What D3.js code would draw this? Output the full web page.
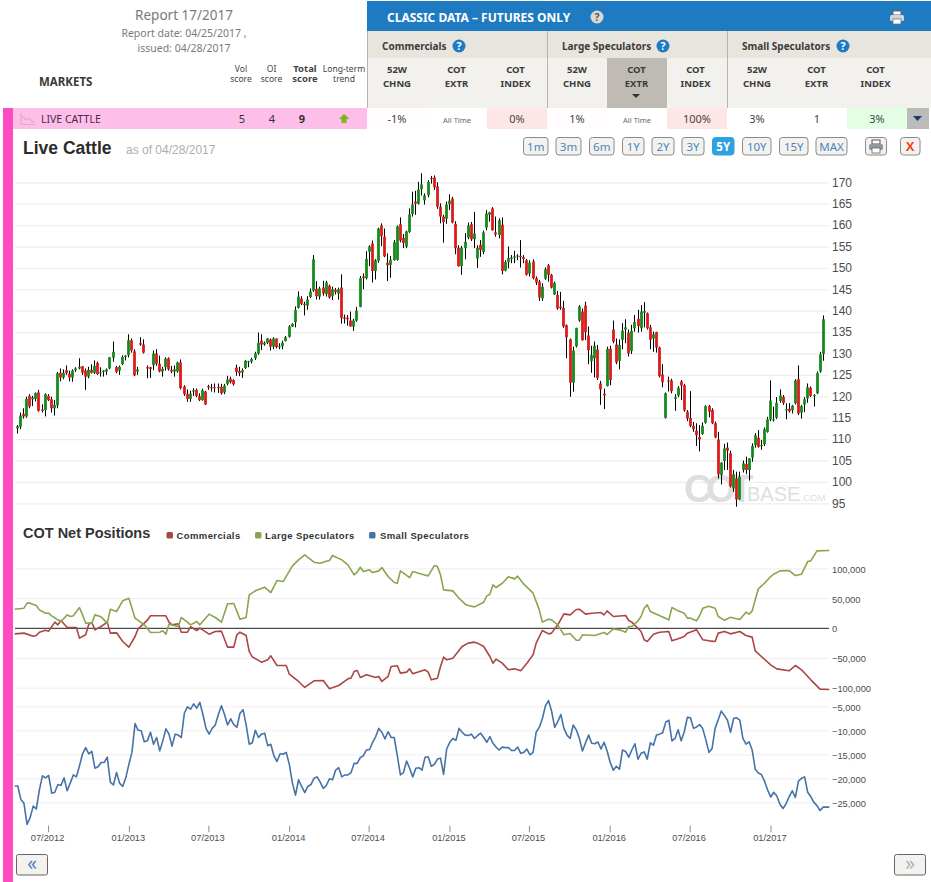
<!DOCTYPE html>
<html><head><meta charset="utf-8">
<script src="https://cdnjs.cloudflare.com/ajax/libs/d3/7.8.5/d3.min.js"></script>
<style>html,body{margin:0;padding:0;background:#fff;overflow:hidden}svg{display:block}text{font-family:"Noto Sans",sans-serif}.ar text,text.ar{font-family:"Liberation Sans",Arial,sans-serif}</style>
</head><body><svg id="c" width="931" height="882"></svg>
<script>
const rangeLabels = ["1m","3m","6m","1Y","2Y","3Y","5Y","10Y","15Y","MAX"];
const groupNames = ["Commercials","Large Speculators","Small Speculators"];
const columnHeads = [["52W","CHNG"],["COT","EXTR"],["COT","INDEX"]];
const rowValues = ["-1%","All Time","0%","1%","All Time","100%","3%","1","3%"];
const xTickLabels = ["07/2012","01/2013","07/2013","01/2014","07/2014","01/2015","07/2015","01/2016","07/2016","01/2017"];
const priceTicks = d3.range(95,171,5);
const netTicks = [100000,50000,0,-50000,-100000];
const smallTicks = [-5000,-10000,-15000,-20000,-25000];

const candleDir = "GGRGRGGRRG"+"RRGGRGRRGG"+"GRRGRGRGGG"+"GGRGGGGRRG"+"RRRRGRRGGR"+"RGGRRRGGRR"+"GRRRRRRGGR"+"RRRGGGGGGR"+"GGRGRGGGGG"+"GGRRGGGRGR"+"GRGRGRRRRG"+"GGRGGRGGRR"+"RGGGRRGGGR"+"GGGGRRRRRG"+"GRRRGGGRGG"+"RGGGRRGRGG"+"GGGRRRGRRR"+"GGRRGRRRRR"+"GGGRRRGGRR"+"RGRRRGGGRG"+"GRGGRRGRRR"+"GRRGGRRRRR"+"RRGGRRRRGG"+"RRGRGGRGGG"+"RGGGGGGGRG"+"RGGRGGGRGG"+"GG";
const priceHigh = [113.3,116.2,117.2,119.9,120.5,120.1,120.9,121.5,118.1,120.7,
120.5,119.9,119.1,125.7,126.5,126.3,127.2,126.0,126.3,126.8,
128.9,127.1,126.5,126.9,127.5,128.4,128.1,126.8,126.1,126.5,
129.2,132.8,127.1,127.2,129.6,129.6,134.5,133.5,131.0,126.9,
133.8,133.3,127.2,126.9,130.7,131.0,129.5,126.9,129.1,129.1,
127.1,127.2,128.1,128.6,122.6,121.6,121.3,121.9,121.8,120.7,
121.8,121.3,122.7,122.9,123.0,123.0,122.9,122.9,124.8,124.6,
124.0,127.4,126.9,126.5,128.5,128.3,129.0,130.4,134.9,134.5,
132.8,133.6,133.5,133.8,133.5,132.4,133.0,134.1,136.6,137.1,
141.0,144.5,143.4,142.1,143.4,145.2,153.0,146.9,145.6,147.0,
147.0,146.1,145.6,145.3,145.4,148.5,139.1,139.0,139.8,138.1,
140.9,148.1,148.7,153.9,155.3,156.4,152.1,159.4,160.4,159.2,
153.4,152.8,156.5,159.9,161.8,157.9,158.7,163.9,167.8,168.0,
170.1,172.1,167.4,170.5,171.5,171.6,170.0,165.1,162.4,165.5,
167.2,166.6,160.9,155.3,155.1,158.1,160.6,160.7,163.1,155.3,
156.5,158.7,163.5,163.1,164.2,162.0,161.6,161.8,151.8,155.0,
153.0,154.0,153.2,156.5,153.0,152.1,151.8,152.0,148.0,147.2,
146.4,150.1,150.9,148.6,146.8,144.6,144.4,142.3,136.8,133.5,
131.6,136.0,141.3,140.5,142.1,136.3,131.8,132.8,132.0,123.6,
121.8,131.6,131.8,137.7,133.5,133.3,137.1,138.0,135.6,136.7,
139.0,140.2,141.3,142.0,139.6,136.7,135.1,135.1,131.6,127.5,
120.9,124.6,124.1,120.5,122.4,123.8,122.9,116.8,121.2,114.0,
113.7,113.3,113.9,117.9,118.0,117.2,114.1,111.7,104.6,108.9,
109.2,107.3,102.8,102.4,102.4,105.0,105.9,105.5,109.0,111.4,
112.1,109.8,112.7,115.2,123.7,117.6,119.8,121.6,120.3,118.4,
118.4,118.0,124.0,127.2,118.0,119.8,123.0,122.3,120.5,125.8,
130.4,138.9];
const bodyTop = [113.0,115.5,115.9,119.4,120.1,119.7,120.8,120.9,116.9,120.5,
120.1,119.3,118.0,125.4,125.5,125.5,126.1,125.3,126.0,126.5,
126.9,127.0,126.0,126.2,126.2,127.1,127.8,125.6,126.0,126.3,
129.1,130.4,126.8,126.9,129.2,129.5,133.1,133.1,130.5,126.3,
132.4,132.1,126.8,126.8,130.0,130.0,127.6,126.4,128.8,128.9,
126.2,126.3,127.9,127.9,122.3,120.6,120.6,121.4,121.5,120.0,
121.4,121.1,122.4,122.1,122.1,122.2,122.2,122.5,123.9,124.1,
123.8,126.7,125.9,126.1,128.3,128.2,128.7,130.0,132.5,133.0,
132.5,133.5,133.3,133.5,133.5,131.7,132.5,133.8,136.3,136.9,
140.2,143.3,142.8,141.6,142.6,144.5,152.0,145.1,145.2,145.4,
146.6,145.8,145.0,144.9,145.0,145.4,138.4,138.4,137.7,137.7,
140.0,147.6,148.0,152.1,155.0,155.7,151.8,159.2,159.9,157.3,
151.2,151.9,156.0,159.7,160.2,157.0,158.5,162.5,164.8,165.5,
168.3,169.5,166.9,170.1,171.0,171.1,169.0,164.3,162.0,164.8,
165.7,166.2,160.3,154.7,154.7,156.1,159.9,160.2,158.0,154.7,
155.4,158.3,162.7,163.0,163.9,158.3,161.1,160.1,151.4,152.3,
152.4,152.7,152.9,152.8,152.5,151.8,151.2,151.5,147.6,146.8,
145.6,149.7,150.6,148.4,146.5,143.7,140.9,140.7,136.6,133.3,
130.7,136.0,141.0,139.8,141.2,134.2,129.6,131.8,130.9,123.0,
120.6,131.1,131.1,135.6,132.1,132.0,135.3,136.1,134.9,135.3,
137.4,138.1,139.8,139.9,139.4,136.1,134.5,135.0,131.4,125.1,
120.7,123.7,123.7,119.8,122.0,123.5,122.6,116.4,114.9,113.1,
112.0,110.5,113.1,117.7,117.7,116.8,113.7,109.9,104.5,107.8,
108.0,106.7,101.8,100.8,101.2,104.3,104.2,105.5,108.4,110.9,
110.3,108.6,112.3,114.6,119.0,114.6,118.5,120.2,119.9,117.0,
117.1,117.8,123.7,124.0,117.7,119.3,122.1,122.0,120.3,125.4,
129.8,138.0];
const bodyBottom = [112.5,112.9,115.3,115.3,117.6,119.3,119.4,116.6,116.6,116.8,
119.1,117.2,117.2,117.9,124.4,124.4,125.4,124.4,124.4,126.1,
126.5,125.5,124.6,124.6,125.5,125.5,125.2,125.4,125.7,125.8,
126.5,129.0,125.7,126.0,127.5,129.2,129.6,130.7,124.9,125.8,
132.1,130.2,126.5,126.4,127.3,127.6,125.8,125.8,126.8,126.3,
125.8,125.8,125.8,121.9,120.5,119.4,119.4,121.1,120.1,119.1,
119.1,118.1,122.1,121.9,121.9,121.9,120.7,120.9,122.9,123.3,
122.8,125.7,125.4,125.6,126.6,128.1,128.1,128.9,130.0,132.1,
132.1,132.5,131.6,131.6,131.5,131.5,131.7,132.9,133.9,136.3,
137.3,140.7,141.6,141.3,141.2,143.2,144.7,143.4,143.3,144.0,
143.9,143.1,143.4,144.4,144.0,138.3,138.1,138.0,136.3,136.3,
137.7,140.9,147.6,147.6,153.8,149.3,149.3,151.7,157.4,152.7,
150.6,150.7,151.8,151.9,156.4,155.8,155.0,158.4,162.6,165.0,
165.0,168.4,165.8,167.0,170.8,168.8,164.3,162.0,160.7,161.5,
164.9,160.6,154.6,150.4,150.4,154.6,157.1,156.7,156.7,152.2,
154.2,153.7,159.4,162.4,158.8,157.8,157.7,149.3,149.4,151.4,
152.1,152.4,152.7,152.5,152.1,148.4,148.7,147.6,146.6,143.1,
142.9,147.5,148.4,145.4,143.8,140.5,140.6,136.3,133.8,123.2,
123.2,131.7,137.7,133.1,135.0,130.8,128.2,128.9,124.3,121.6,
120.2,122.4,123.8,132.8,127.9,128.3,133.2,135.6,130.0,130.6,
135.9,136.4,135.9,139.5,135.9,133.2,133.5,131.4,124.7,123.3,
115.0,123.5,121.2,119.4,120.2,122.5,116.7,114.8,113.1,112.3,
110.9,109.9,111.2,113.8,116.4,113.7,110.4,101.8,101.6,104.9,
107.3,99.0,98.5,95.9,95.9,102.8,102.8,102.8,105.7,108.6,
108.2,108.4,108.8,111.7,114.6,114.5,115.0,118.9,118.4,116.7,
116.5,116.8,118.4,116.0,116.2,118.1,119.5,120.1,120.1,120.7,
125.8,129.9];
const priceLow = [111.3,112.3,114.8,115.0,117.2,117.7,118.8,116.4,116.2,115.3,
118.9,116.2,115.5,117.2,123.5,124.0,125.0,123.5,123.4,125.7,
126.3,125.0,121.5,124.2,125.3,125.2,125.0,124.6,124.6,125.0,
126.3,128.1,125.4,125.0,127.3,128.4,129.1,130.2,124.7,125.0,
131.8,130.0,124.2,124.3,126.1,127.1,125.6,124.6,126.0,126.0,
125.4,124.6,125.5,121.6,120.1,118.7,118.7,120.1,119.8,118.9,
119.0,118.0,121.5,121.1,120.9,120.8,120.4,120.5,122.6,123.0,
122.5,124.8,124.7,124.3,126.4,126.8,127.7,128.5,129.7,130.8,
131.8,132.2,130.7,131.0,131.2,131.0,131.0,132.8,133.7,136.2,
136.1,140.5,141.3,138.9,140.2,143.0,144.4,142.6,142.6,143.5,
143.3,142.8,142.5,143.8,142.6,137.0,137.0,136.5,136.3,135.3,
137.4,140.8,145.0,147.3,150.4,146.6,147.3,151.2,155.1,152.5,
146.9,147.7,151.7,151.7,156.0,154.6,154.6,158.2,162.0,162.4,
164.8,166.9,164.8,166.5,169.7,168.2,163.8,160.4,155.9,160.3,
163.5,160.4,153.2,150.3,148.4,152.0,156.7,156.3,154.6,150.0,
152.6,153.2,158.8,160.8,158.7,157.3,156.9,148.5,149.2,149.9,
151.1,151.1,151.8,150.1,151.1,148.2,148.0,147.3,146.0,142.3,
142.3,147.2,146.8,145.2,143.7,140.2,140.2,136.0,128.9,119.9,
121.1,131.4,137.4,133.0,133.1,127.5,125.5,124.4,123.8,118.0,
117.0,122.3,122.6,132.4,127.5,126.3,131.0,132.4,129.3,129.9,
135.1,134.9,135.1,136.1,135.6,131.0,130.4,130.2,124.4,122.1,
114.8,121.1,120.7,116.6,119.8,119.1,116.4,114.2,112.8,111.7,
108.4,107.1,111.0,113.6,115.1,113.5,110.2,100.8,99.4,102.8,
102.8,98.7,97.7,94.2,95.8,102.2,101.8,100.3,104.7,108.0,
108.0,107.5,108.4,111.5,114.2,114.1,114.7,118.5,118.0,114.6,
116.2,116.0,118.1,115.6,114.8,116.3,118.5,119.8,117.6,120.5,
125.5,128.3];

// net positions, thousands of contracts, week number then value
const largeWeeks = [0,3,4,5,7,8,10,11,12,14,15,17,18,19,21,22,23,25,26,28,30,31,33,35,37,39,42,44,47,48,49,50,53,54,56,57,59,60,63,65,67,69,71,73,75,76,78,81,83,85,87,90,92,94,97,99,101,102,103,106,108,110,111,112,113,115,116,118,119,121,123,124,125,128,129,132,134,136,137,138,139,142,144,146,147,149,152,153,154,155,156,158,160,162,163,165,168,170,171,173,174,176,178,180,182,183,184,188,191,192,194,196,198,199,200,202,203,204,205,206,208,212,213,215,217,218,219,221,222,223,225,227,228,230,232,235,237,238,239,240,241,243,245,246,248,251,253,255,257,258,260,264];
const largeSpecs = [31.5,33.2,41.6,41.6,37.7,30.4,24.8,24.8,20.4,13.7,10.9,22,19.3,20.4,34.3,22,8.1,8.1,22,18.7,8.1,31.5,27.6,45.5,49.9,16.5,5.3,-7.5,-7,-4.7,-10.3,6.4,2.5,17.6,9.8,5.3,10.9,5.3,23.2,17.6,9.8,40.5,41,14.8,17.6,55.5,62.2,68.4,59.4,79.5,77.8,104.1,114.1,122.5,110.2,108.5,111.9,113,121.4,114.1,105.7,89,93.5,101.8,94.6,97.4,92.9,95.7,101.3,86.2,76.2,75,95.7,84.5,94.6,90.1,87.3,104.6,102.9,89,63.9,62.2,49.9,39.9,37.7,35.4,43.2,53.8,56.6,72.3,67.8,75,85.7,82.3,86.8,73.4,58.3,30.4,9.8,14.8,13.7,5.3,-11.4,-9.2,-20.4,-20.4,-11.4,-12.6,-7.5,-10.9,-1.4,-3.1,-7,2.5,2.5,12,19.3,33.2,38.8,27.6,23.2,13.7,34.3,28.7,24.8,16.5,16.5,12,20.9,33.2,36.5,33.2,19.3,13.1,18.1,14.2,26.5,23.2,28.7,47.2,65.6,75,86.2,90.1,95.7,96.3,87.9,90.1,111.3,112.4,129.2,129.7];
const commWeeks = [0,3,6,7,8,10,11,13,14,15,17,20,21,23,24,25,26,28,30,31,33,35,37,39,40,43,44,49,50,51,53,54,56,57,59,60,63,65,67,69,71,72,73,75,76,77,80,82,83,85,88,89,92,94,97,100,102,105,108,109,110,111,112,114,117,118,119,121,122,124,125,127,128,129,133,134,135,137,138,139,140,142,145,147,149,150,152,154,155,156,158,160,162,164,166,168,169,171,173,174,176,178,180,182,183,185,187,190,191,192,194,198,199,200,203,204,205,207,209,212,213,215,217,218,221,223,225,227,228,230,232,235,237,239,240,242,245,247,251,253,255,258,261,264];
const commercials = [-9.8,-8.6,-13.7,-12.6,-7,-3.6,-5.3,9.8,5.3,12.6,0.8,0.8,-17,-11.4,6.4,9.2,-3.1,2.5,9.8,-8.6,-8.1,-22.6,-32.1,-14.2,-1.4,13.1,20.4,20.4,9.8,5.3,7,-7,-7,2,-4.2,-0.3,-10.3,-5.9,-5.3,-32.1,-32.1,-11.4,-7,-12.6,-39.3,-48.3,-57.2,-53.3,-46.6,-62.8,-62.8,-77.3,-89.6,-99.6,-88.4,-87.9,-101.8,-96.3,-85.1,-84,-72.8,-71.1,-82.9,-78.4,-82.9,-81.2,-89.6,-81.2,-64.4,-63.3,-75.6,-73.9,-68.4,-76.7,-70,-73.9,-86.8,-84,-64.4,-48.8,-53.3,-50.5,-31,-25.4,-23.7,-25.4,-31,-47.7,-58.9,-52.2,-58.9,-70,-68.4,-71.7,-58.9,-44.9,-25.4,-4.2,-9.8,-8.6,5.3,23.7,22,31,31.5,23.2,24.8,25.9,22,28.7,19.3,20.9,12.6,9.8,-5.9,-19.8,-22.6,-10.3,-7,-5.9,-21.5,-18.1,-14.2,-8.6,-3.1,-19.8,-21.5,-22.6,-8.6,-5.9,-9.8,-5.9,-12.6,-15.3,-38.2,-47.7,-61.7,-68.4,-71.7,-62.8,-70,-86.8,-102.4,-103];
const smallSpecs = [-21.6,-21.6,-24.4,-25.2,-29.6,-28.2,-25.8,-26.4,-22.4,-19.5,-19.9,-19.4,-23.1,-22.9,-21.3,-21.5,-19.9,-22.6,-21.0,-19.3,-19.7,-17.4,-14.9,-13.6,-14.9,-14.4,-17.9,-17.6,-16.7,-16.7,-15.6,-20.8,-21.4,-18.8,-21.0,-21.7,-19.9,-17.1,-14.6,-8.6,-10.0,-10.1,-12.4,-12.2,-10.4,-12.9,-11.5,-14.3,-12.2,-9.7,-10.8,-13.3,-10.8,-11.0,-11.5,-6.4,-5.1,-5.6,-4.5,-5.4,-4.2,-6.7,-9.6,-10.8,-9.6,-8.9,-6.7,-4.9,-6.7,-8.9,-7.6,-8.8,-9.4,-6.5,-5.7,-8.8,-12.9,-12.6,-10.0,-11.5,-10.8,-10.6,-13.2,-12.9,-15.3,-16.5,-14.9,-15.0,-14.6,-17.1,-21.0,-23.5,-20.3,-21.7,-23.0,-21.7,-21.3,-20.0,-19.7,-20.8,-22.1,-21.5,-20.1,-20.3,-18.3,-17.8,-19.7,-19.3,-19.3,-18.8,-16.9,-16.9,-15.7,-15.3,-14.1,-14.0,-12.5,-11.3,-9.6,-10.4,-11.8,-10.3,-11.5,-11.5,-15.3,-19.3,-18.8,-16.4,-17.9,-19.7,-17.9,-17.8,-18.3,-15.6,-15.5,-17.5,-17.1,-16.0,-15.8,-19.2,-13.9,-12.5,-11.7,-12.1,-9.6,-10.4,-11.0,-11.1,-10.8,-11.7,-11.1,-10.6,-11.5,-12.5,-11.3,-12.7,-13.5,-14.1,-13.5,-13.6,-13.6,-14.2,-14.2,-13.5,-14.8,-14.6,-13.9,-15.1,-14.6,-10.4,-9.4,-7.6,-4.9,-3.8,-6.0,-9.4,-8.2,-6.7,-9.6,-11.0,-11.7,-8.9,-9.9,-11.7,-14.3,-12.6,-11.0,-12.7,-12.8,-12.4,-13.9,-12.5,-14.3,-16.7,-18.3,-17.5,-18.1,-14.1,-14.4,-15.6,-14.1,-12.8,-16.0,-14.8,-14.5,-16.0,-12.6,-13.1,-11.0,-10.8,-10.5,-8.3,-7.9,-12.2,-11.7,-9.9,-12.2,-10.3,-7.3,-7.4,-9.6,-9.3,-8.8,-9.7,-12.0,-14.6,-13.8,-9.6,-7.8,-6.0,-6.9,-7.9,-10.4,-7.5,-7.4,-7.9,-11.7,-12.9,-12.4,-14.1,-18.1,-18.9,-19.2,-20.6,-22.4,-23.9,-22.9,-23.7,-25.4,-26.3,-25.3,-23.8,-22.6,-24.0,-20.6,-20.0,-19.7,-22.9,-23.8,-25.0,-25.7,-26.7,-26.0,-26.0,-26.0];

const svg = d3.select("#c");
const W = 931, H = 882;
function T(g,x,y,s,o={}){return g.append("text").attr("x",x).attr("y",y).text(s)
  .attr("font-size",o.size||11).attr("fill",o.fill||"#333").attr("font-weight",o.weight||null)
  .attr("text-anchor",o.anchor||"start").attr("class",o.cls||null).attr("letter-spacing",o.ls||null);}
function R(g,x,y,w,h,f){return g.append("rect").attr("x",x).attr("y",y).attr("width",w).attr("height",h).attr("fill",f);}
function qIcon(g,cx,cy,fill,fg){g.append("circle").attr("cx",cx).attr("cy",cy).attr("r",6.5).attr("fill",fill);
  T(g,cx,cy+3.7,"?",{size:10.5,fill:fg,weight:700,anchor:"middle"});}
function printer(g,x,y,col,dark){
  R(g,x+3,y,8,4,"#fff").attr("stroke",dark);
  g.append("rect").attr("x",x).attr("y",y+4).attr("width",14).attr("height",6).attr("rx",1.5).attr("fill",col);
  R(g,x+3,y+8,8,5,"#fff").attr("stroke",dark).attr("stroke-width",.7);
}
// ---------- pink side bar and header ----------
const top_ = svg.append("g");
R(top_,3,108,10,H-108,"#ff4bc2");
R(top_,13,108,354,21,"#fdbfe9");
R(top_,367,1,564,30,"#1f7bc1");
R(top_,367,31,564,27,"#e8e4de");
R(top_,367,58,564,50,"#f2f1ed");
R(top_,607,58,60,50,"#bfbbb4");
[367,547,727].forEach(x=>R(top_,x,31,1,77,"#b5b5b0"));
T(top_,387,22,"CLASSIC DATA – FUTURES ONLY",{size:12,weight:700,fill:"#fff"});
qIcon(top_,597,17,"#dcd8d0","#555");
printer(top_,890,11,"#cfd6dc","#667");
T(top_,184,20,"Report 17/2017",{size:13.5,fill:"#7a7a7a",anchor:"middle"});
T(top_,184,37,"Report date: 04/25/2017 ,",{size:10.5,fill:"#7a7a7a",anchor:"middle"});
T(top_,184,52,"issued: 04/28/2017",{size:10.5,fill:"#7a7a7a",anchor:"middle"});
T(top_,39,86,"MARKETS",{size:11.5,weight:700,fill:"#3a3a3a"});
[["Vol","score",241,false],["OI","score",271.5,false],["Total","score",305,true],["Long-term","trend",344,false]].forEach(d=>{
  T(top_,d[2],72,d[0],{size:d[3]?9.5:8.6,fill:"#444",anchor:"middle",weight:d[3]?700:null});
  T(top_,d[2],82,d[1],{size:d[3]?9.5:8.6,fill:"#444",anchor:"middle",weight:d[3]?700:null});
});
const colCentre=[30,89.5,148.5];
const iconAt=[92,116,116];
groupNames.forEach((n,i)=>{
  const x0=367+180*i;
  T(top_,x0+15,50,n,{size:10,weight:700,fill:"#3c3c3c"});
  qIcon(top_,x0+iconAt[i],46,"#1f7bc1","#fff");
  colCentre.forEach((c,k0)=>{
    columnHeads[k0].forEach((s,k)=>T(top_,x0+c,72.5+14*k,s,{size:9.5,weight:700,fill:"#3c3c3c",anchor:"middle"}));
  });
});
top_.append("path").attr("d","M632,94h8l-4,4z").attr("fill","#333");
// data row
const cellFill=[ "#fffdfd","#fff","#ffe6e6","#fffdfd","#fff","#ffe6e6","#fff","#fff","#e3ffe3"];
rowValues.forEach((v,i)=>{
  const x=367+60*i; R(top_,x,108,60,21,cellFill[i]);
  const small=v==="All Time";
  T(top_,x+30,123,v,{size:small?7.5:11,fill:small?"#666":"#444",anchor:"middle"});
});
R(top_,907,108,22,21,"#bbbbbb");
top_.append("path").attr("d","M913,116h9l-4.5,5z").attr("fill","#1b3a6b");
T(top_,41,123,"LIVE CATTLE",{size:10.5,fill:"#4a2a4a"});
top_.append("path").attr("d","M21,113v11.5h14M22,116l4,4 3,-2 5,5").attr("fill","none").attr("stroke","#e9a6c8").attr("stroke-width",1.2);
[["5",242,false],["4",272,false],["9",302,true]].forEach(d=>T(top_,d[1],123,d[0],{size:11,fill:"#333",anchor:"middle",weight:d[2]?700:null}));
top_.append("path").attr("d","M339,119l5,-5 5.5,5h-3v4h-5v-4z").attr("fill","#7ab51d");

T(svg,23,154,"Live Cattle",{size:17.5,weight:700,fill:"#2b2b2b",cls:"ar"});
T(svg,126,154,"as of 04/28/2017",{size:12,fill:"#aeaeae",cls:"ar"});

// range buttons
const btnX=[[523.5,548],[556,581],[589.5,614],[622.5,644],[652,674],[682,704],[712.5,734],[742.5,771],[779.5,808],[816,847]];
rangeLabels.forEach((l,i)=>{
  const [a,b]=btnX[i], on=l==="5Y";
  svg.append("rect").attr("x",a).attr("y",137.5).attr("width",b-a).attr("height",17.5).attr("rx",3)
    .attr("fill",on?"#2ea1de":"#f3f2ee").attr("stroke",on?"#2ea1de":"#8a8a8a");
  T(svg,(a+b)/2,150.5,l,{size:11.5,fill:on?"#fff":"#4a86c0",anchor:"middle",weight:on?700:null});
});
svg.append("rect").attr("x",865.5).attr("y",137.5).attr("width",21).attr("height",17.5).attr("rx",3).attr("fill","#f3f2ee").attr("stroke","#8a8a8a");
printer(svg,869,140,"#8f99a3","#555");
svg.append("rect").attr("x",900.5).attr("y",137.5).attr("width",19.5).attr("height",17.5).attr("rx",3).attr("fill","#f3f2ee").attr("stroke","#8a8a8a");
T(svg,910.2,151,"X",{size:13,weight:700,fill:"#f0401a",anchor:"middle",cls:"ar"});

// ---------- price panel ----------
const yPrice=d3.scaleLinear().domain([95,170]).range([503.3,182.3]);
const xCandle=d3.scalePoint().domain(d3.range(priceHigh.length)).range([17.3,823.3]);
const gridL=15, gridR=829;
const priceAxis=svg.append("g").attr("class","ar").attr("transform",`translate(${gridR},0)`)
  .call(d3.axisRight(yPrice).tickValues(priceTicks).tickSize(-(gridR-gridL)).tickPadding(3));
priceAxis.select(".domain").remove();
priceAxis.selectAll("line").attr("stroke","#eeeeee").attr("stroke-width",1.3);
priceAxis.selectAll("text").attr("font-size",12).attr("fill","#4d4d4d").attr("font-family","Liberation Sans");

const wm=svg.append("g").attr("class","ar");
T(wm,684,502,"COT",{size:39,weight:700,fill:"#dedede",cls:"ar",ls:-6.5});
T(wm,747,501,"BASE",{size:20,fill:"#dedede",cls:"ar"});
T(wm,800.5,501,".COM",{size:9.5,fill:"#dedede",cls:"ar"});

const idx=d3.range(priceHigh.length);
const colX=i=>Math.floor(xCandle(i))+0.5;
const colors={G:"#178a1e",R:"#dc1c1c"};
svg.append("g").selectAll("line").data(idx).join("line")
  .attr("x1",colX).attr("x2",colX).attr("y1",i=>yPrice(priceHigh[i])).attr("y2",i=>yPrice(priceLow[i]))
  .attr("stroke","#000").attr("stroke-width",1);
svg.append("g").selectAll("rect").data(idx).join("rect")
  .attr("x",i=>colX(i)-1.4).attr("width",2.8)
  .attr("y",i=>yPrice(bodyTop[i])).attr("height",i=>Math.max(1,yPrice(bodyBottom[i])-yPrice(bodyTop[i])))
  .attr("fill",i=>colors[candleDir[i]]);

// ---------- COT panel ----------
T(svg,23,538,"COT Net Positions",{size:14.5,weight:700,fill:"#333",cls:"ar"});
const lineCols=["#aa4643","#89a54e","#4572a7"];
[["Commercials",166.5,176.5],["Large Speculators",255,265],["Small Speculators",369,380]].forEach((d,i)=>{
  svg.append("rect").attr("x",d[1]).attr("y",532).attr("width",6.5).attr("height",6.5).attr("rx",1.5).attr("fill",lineCols[i]);
  T(svg,d[2],539,d[0],{size:9.5,fill:"#333",weight:700,cls:"ar",ls:.4});
});
const yNet=d3.scaleLinear().domain([-100000,100000]).range([687.7,568.3]);
const ySmall=d3.scaleLinear().domain([-25000,-5000]).range([802.3,706.3]);
const fmt=d3.format(",");
function rightAxis(scale,ticks){
  const g=svg.append("g").attr("class","ar").attr("transform",`translate(${gridR},0)`)
   .call(d3.axisRight(scale).tickValues(ticks).tickFormat(fmt).tickSize(-(gridR-gridL)).tickPadding(3));
  g.select(".domain").remove();
  g.selectAll("line").attr("stroke","#eeeeee").attr("stroke-width",1);
  g.selectAll("text").attr("font-size",9.3).attr("fill","#4d4d4d").attr("font-family","Liberation Sans").attr("dy","0.42em");
  return g;
}
rightAxis(yNet,netTicks); rightAxis(ySmall,smallTicks);
svg.append("line").attr("x1",gridL).attr("x2",gridR).attr("y1",yNet(0)+.3).attr("y2",yNet(0)+.3).attr("stroke","#222").attr("stroke-width",1);

const xWeek=d3.scaleLinear().domain([0,264]).range([14.7,829.3]);
const xWeekS=d3.scaleLinear().domain([0,smallSpecs.length-1]).range([14.7,829.3]);
const draw=(xs,ys,y,col)=>svg.append("path").attr("d",d3.line().x(d=>d[0]).y(d=>d[1])(xs.map((w,i)=>[w,y(ys[i]*1000)])))
  .attr("fill","none").attr("stroke",col).attr("stroke-width",1.6).attr("stroke-linejoin","round");
draw(commWeeks.map(xWeek),commercials,yNet,lineCols[0]);
draw(largeWeeks.map(xWeek),largeSpecs,yNet,lineCols[1]);
draw(smallSpecs.map((_,i)=>xWeekS(i)),smallSpecs,ySmall,lineCols[2]);

// time axis
const parseM=d3.timeParse("%m/%Y");
const xTime=d3.scaleTime().domain([new Date(2012,3,16),new Date(2017,4,15)]).range([14.7,829.3]);
const timeAxis=svg.append("g").attr("class","ar").attr("transform","translate(0,825.7)")
  .call(d3.axisBottom(xTime).tickValues(xTickLabels.map(parseM)).tickFormat(d3.timeFormat("%m/%Y")).tickSize(6.5).tickPadding(2));
timeAxis.select(".domain").remove();
timeAxis.selectAll("line").attr("stroke","#8a8a8a");
timeAxis.selectAll("text").attr("font-size",9.3).attr("fill","#4d4d4d").attr("font-family","Liberation Sans").attr("dx","-1");

// nav buttons
[[16.5,"«","#4a86c0"],[894.5,"»","#a8b2bc"]].forEach(d=>{
  svg.append("rect").attr("x",d[0]).attr("y",854.5).attr("width",31).attr("height",20.5).attr("rx",2).attr("fill","#f3f2ee").attr("stroke","#666");
  T(svg,d[0]+15.5,870,d[1],{size:19,fill:d[2],anchor:"middle"});
});
</script></body></html>
